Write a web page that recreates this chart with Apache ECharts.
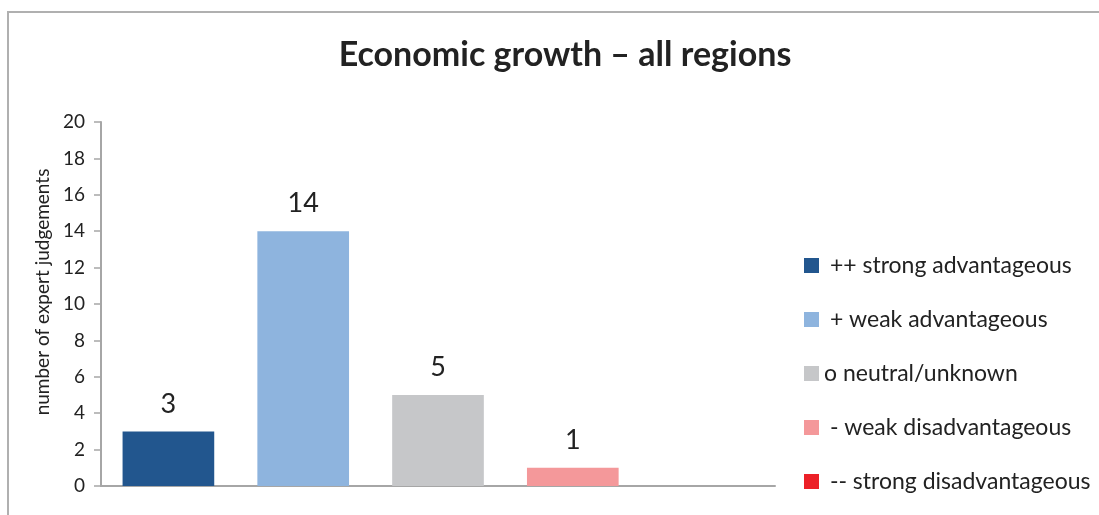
<!DOCTYPE html>
<html>
<head>
<meta charset="utf-8">
<script src="https://cdn.jsdelivr.net/npm/echarts@6/dist/echarts.min.js"></script>
<style>
html,body{margin:0;padding:0;background:#fff;}
#c{width:1099px;height:515px;}
</style>
</head>
<body>
<div id="c"></div>
<script>
var categories = [' ++ strong advantageous', ' + weak advantageous', 'o neutral/unknown', ' - weak disadvantageous', ' -- strong disadvantageous'];
var values = [3, 14, 5, 1, 0];
var colors = ['#22568E', '#8EB4DE', '#C6C7C9', '#F4989A', '#EC2027'];
var yTicks = [0, 2, 4, 6, 8, 10, 12, 14, 16, 18, 20];

var FONT = 'Lato, "Open Sans", sans-serif';
var chart = echarts.init(document.getElementById('c'));
var series = categories.map(function (name, i) {
  var d = values.map(function (v, j) { return j === i ? v : null; });
  return {
    name: name,
    type: 'bar',
    stack: 'all',
    data: d,
    barWidth: '68%',
    itemStyle: { color: colors[i] },
    label: {
      show: true,
      position: 'top',
      distance: 14,
      fontSize: 27,
      fontFamily: FONT,
      color: '#222',
      formatter: function (p) { return p.value ? String(p.value) : ''; }
    }
  };
});

chart.setOption({
  animation: false,
  backgroundColor: '#fff',
  title: {
    text: 'Economic growth \u2013 all regions',
    left: 560,
    textAlign: 'center',
    top: 33,
    textStyle: { fontSize: 34, fontWeight: 'bold', fontFamily: FONT, color: '#222' }
  },
  graphic: [{
    type: 'rect',
    shape: { x: 8, y: 12, width: 1300, height: 700 },
    style: { fill: 'none', stroke: '#B0B0B0', lineWidth: 2 },
    silent: true
  }],
  legend: {
    orient: 'vertical',
    left: 804,
    top: 254,
    padding: 0,
    itemWidth: 15,
    itemHeight: 15,
    itemGap: 31,
    icon: 'rect',
    textStyle: { fontSize: 23, fontFamily: FONT, color: '#222' },
    data: categories
  },
  grid: { left: 101, right: 324, top: 122, bottom: 29, containLabel: false },
  xAxis: {
    type: 'category',
    data: categories,
    axisLine: { lineStyle: { color: '#A6A6A6', width: 2 } },
    axisTick: { show: false },
    axisLabel: { show: false }
  },
  yAxis: {
    type: 'value',
    min: yTicks[0],
    max: yTicks[yTicks.length - 1],
    interval: 2,
    name: 'number of expert judgements',
    nameLocation: 'middle',
    nameGap: 47,
    nameTextStyle: { fontSize: 19, fontFamily: FONT, color: '#222', padding: [0, 0, 0, 24] },
    axisLine: { show: true, lineStyle: { color: '#A6A6A6', width: 2 } },
    axisTick: { show: true, length: 7, lineStyle: { color: '#A6A6A6', width: 1.5 } },
    axisLabel: { fontSize: 19, fontFamily: FONT, color: '#222', margin: 16 },
    splitLine: { show: false }
  },
  series: series
});
</script>
</body>
</html>
